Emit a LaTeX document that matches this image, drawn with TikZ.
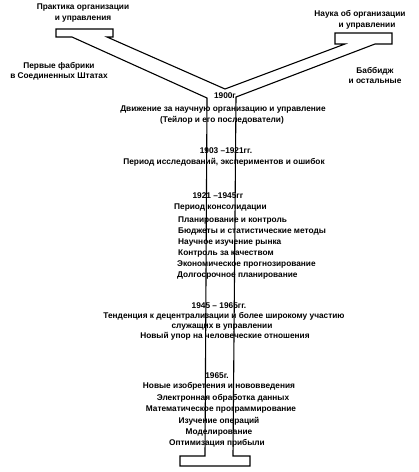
\documentclass[tikz,border=0pt]{standalone}
\usepackage{fontspec}
\setmainfont{Liberation Sans}
\begin{document}
\begin{tikzpicture}[x=1pt,y=-1pt,
  lbl/.style={font=\fontsize{8.3}{9}\selectfont\bfseries, inner sep=0pt, anchor=base},
  lbw/.style={lbl, anchor=base west},
  outline/.style={draw=black, line width=1.1pt, line join=miter}]
\useasboundingbox (0,0) rectangle (419,472);
% Y-shaped tree with three end boxes
\draw[outline] (72,37) -- (56,37) -- (56,29) -- (113,29) -- (113,37) -- (107,37)
  -- (225,89) -- (345,44) -- (335,44) -- (335,33) -- (392,33) -- (392,44) -- (375,44)
  -- (236,97) -- (233,456) -- (250,456) -- (250,466) -- (180,466) -- (180,456)
  -- (205,456) -- (207,98) -- cycle;
% top labels
\node[lbl] (t1a) at (83,9) {Практика организации};
\node[lbl] (t1b) at (83,20) {и управления};
\node[lbl] (t2a) at (360,16) {Наука об организации};
\node[lbl] (t2b) at (367,27) {и управлении};
\node[lbl] (t3a) at (59,68) {Первые фабрики};
\node[lbl] (t3b) at (59,78) {в Соединенных Штатах};
\node[lbl] (t4a) at (375,73) {Баббидж};
\node[lbl] (t4b) at (375,83) {и остальные};
% 1900
\node[lbl] (y1900) at (225,98) {1900г};
\node[lbl] (d1) at (223,111) {Движение за научную организацию и управление};
\node[lbl] (d2) at (222,122) {(Тейлор и его последователи)};
% 1903
\node[lbl] (y1903) at (226,153) {1903 –1921гг.};
\node[lbl] (p1) at (224,164) {Период исследований, экспериментов и ошибок};
% 1921
\node[lbl] (y1921) at (218,198) {1921 –1945гг};
\node[lbw] (c1) at (174,209) {Период консолидации};
\node[lbw] (c2) at (178,222) {Планирование и контроль};
\node[lbw] (c3) at (178,233) {Бюджеты и статистические методы};
\node[lbw] (c4) at (178,244) {Научное изучение рынка};
\node[lbw] (c5) at (178,255) {Контроль за качеством};
\node[lbw] (c6) at (177,266) {Экономическое прогнозирование};
\node[lbw] (c7) at (177,277) {Долгосрочное планирование};
% 1945
\node[lbl] (y1945) at (219,308) {1945 – 1965гг.};
\node[lbl] (e1) at (224,318) {Тенденция к децентрализации и более широкому участию};
\node[lbl] (e2) at (222,328) {служащих в управлении};
\node[lbl] (e3) at (225,338) {Новый упор на человеческие отношения};
% 1965
\node[lbl] (y1965) at (217,378) {1965г.};
\node[lbl] (f1) at (219,388) {Новые изобретения и нововведения};
\node[lbl] (f2) at (223,400) {Электронная обработка данных};
\node[lbl] (f3) at (221,411) {Математическое программирование};
\node[lbl] (f4) at (219,423) {Изучение операций};
\node[lbl] (f5) at (219,434) {Моделирование};
\node[lbl] (f6) at (217,445) {Оптимизация прибыли};
\end{tikzpicture}
\end{document}
